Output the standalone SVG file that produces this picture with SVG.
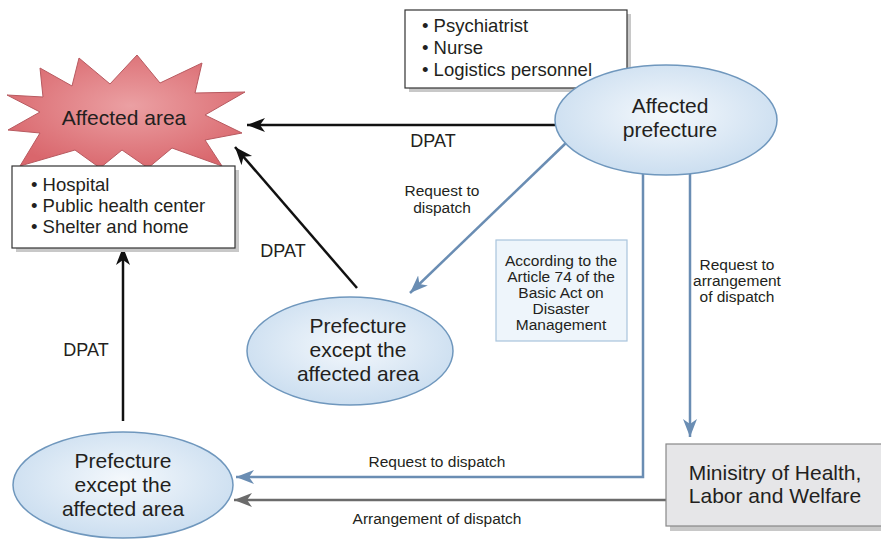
<svg xmlns="http://www.w3.org/2000/svg" width="881" height="540" viewBox="0 0 881 540">
<style>
text{font-family:"Liberation Sans",Arial,sans-serif;fill:#231f20}
.lbl{font-size:15.5px;text-anchor:middle}
.big{font-size:21px;text-anchor:middle}
.list{font-size:18.5px}
.dpat{font-size:18px;text-anchor:middle}
.ell{fill:url(#eg);stroke:#6f97bd;stroke-width:1.5}
.blk{stroke:#111;stroke-width:2.5;fill:none}
.blu{stroke:#6a8db3;stroke-width:2.5;fill:none}
.gry{stroke:#6b6b6b;stroke-width:2.5;fill:none}
.box{fill:#fff;stroke:#333;stroke-width:1.2}
.shadow{fill:#c8c8c8}
</style>
<defs>
<radialGradient id="eg" cx="50%" cy="45%" r="60%">
<stop offset="0" stop-color="#f4f8fc"/>
<stop offset="1" stop-color="#c8dcef"/>
</radialGradient>
<radialGradient id="sg" cx="52%" cy="45%" r="60%">
<stop offset="0" stop-color="#eba0a3"/>
<stop offset="1" stop-color="#d9666c"/>
</radialGradient>
<marker id="ab" markerUnits="userSpaceOnUse" markerWidth="20" markerHeight="16" refX="18" refY="7" orient="auto">
<path d="M0,0 L18,7 L0,14 L5,7 z" fill="#111"/>
</marker>
<marker id="au" markerUnits="userSpaceOnUse" markerWidth="20" markerHeight="16" refX="18" refY="7" orient="auto">
<path d="M0,0 L18,7 L0,14 L5,7 z" fill="#6a8db3"/>
</marker>
<marker id="ag" markerUnits="userSpaceOnUse" markerWidth="20" markerHeight="16" refX="18" refY="7" orient="auto">
<path d="M0,0 L18,7 L0,14 L5,7 z" fill="#6b6b6b"/>
</marker>
</defs>
<rect width="881" height="540" fill="#fff"/>

<g id="connectors">
<line class="blk" x1="555" y1="125" x2="247" y2="125" marker-end="url(#ab)"/>
<line class="blk" x1="357" y1="288" x2="235" y2="147" marker-end="url(#ab)"/>
<line class="blk" x1="123" y1="421" x2="123" y2="247" marker-end="url(#ab)"/>
<line class="blu" x1="567" y1="142" x2="410" y2="293" marker-end="url(#au)"/>
<polyline class="blu" points="643,173 643,477 236,477" marker-end="url(#au)"/>
<line class="blu" x1="690" y1="174" x2="690" y2="437" marker-end="url(#au)"/>
<line class="gry" x1="666" y1="500" x2="234" y2="500" marker-end="url(#ag)"/>
<text class="dpat" x="433" y="147">DPAT</text>
<text class="dpat" x="283" y="257">DPAT</text>
<text class="dpat" x="86" y="356">DPAT</text>
<text class="lbl" x="442" y="196">Request to</text>
<text class="lbl" x="442" y="213">dispatch</text>
<text class="lbl" x="737" y="270">Request to</text>
<text class="lbl" x="737" y="286">arrangement</text>
<text class="lbl" x="737" y="302">of dispatch</text>
<text class="lbl" x="437" y="467">Request to dispatch</text>
<text class="lbl" x="437" y="524">Arrangement of dispatch</text>
</g>

<g id="affected-area">
<polygon points="40,68 72,86 79,58 110,84 137,55 160,83 202,63 195,93 245,92 205,115 242,133 205,140 222,166 172,148 148,168 122,150 100,168 75,150 20,166 40,133 8,130 40,112 7,95 43,97" fill="url(#sg)" stroke="#b85a60" stroke-width="1"/>
<text x="124" y="125" style="font-size:21px;text-anchor:middle">Affected area</text>
</g>

<g id="facilities">
<rect class="shadow" x="16" y="170" width="223" height="82"/>
<rect class="box" x="12" y="166" width="223" height="82"/>
<text class="list" x="31" y="191">• Hospital</text>
<text class="list" x="31" y="212">• Public health center</text>
<text class="list" x="31" y="233">• Shelter and home</text>
</g>

<g id="personnel">
<rect class="shadow" x="409" y="14" width="222" height="78"/>
<rect class="box" x="405" y="10" width="222" height="78"/>
<text class="list" x="422" y="32">• Psychiatrist</text>
<text class="list" x="422" y="54">• Nurse</text>
<text class="list" x="422" y="76">• Logistics personnel</text>
</g>

<g id="affected-prefecture">
<ellipse class="ell" cx="666" cy="120" rx="111" ry="55"/>
<text class="big" x="670" y="113">Affected</text>
<text class="big" x="670" y="137">prefecture</text>
</g>

<g id="article">
<rect x="496" y="240" width="131" height="101" fill="#eef5fb" stroke="#a8c4dc" stroke-width="1.2"/>
<text class="lbl" x="561" y="266">According to the</text>
<text class="lbl" x="561" y="282">Article 74 of the</text>
<text class="lbl" x="561" y="298">Basic Act on</text>
<text class="lbl" x="561" y="314">Disaster</text>
<text class="lbl" x="561" y="330">Management</text>
</g>

<g id="prefecture-middle">
<ellipse class="ell" cx="350" cy="351" rx="103" ry="54"/>
<text class="big" x="358" y="333">Prefecture</text>
<text class="big" x="358" y="357">except the</text>
<text class="big" x="358" y="381">affected area</text>
</g>

<g id="prefecture-bottom">
<ellipse class="ell" cx="123" cy="485" rx="110" ry="53"/>
<text class="big" x="123" y="468">Prefecture</text>
<text class="big" x="123" y="492">except the</text>
<text class="big" x="123" y="516">affected area</text>
</g>

<g id="ministry">
<rect class="shadow" x="670" y="449" width="211" height="82"/>
<rect x="666" y="444" width="220" height="82" fill="#e6e6e8" stroke="#888" stroke-width="1.2"/>
<text class="big" x="775" y="480">Minisitry of Health,</text>
<text class="big" x="775" y="503">Labor and Welfare</text>
</g>
</svg>
